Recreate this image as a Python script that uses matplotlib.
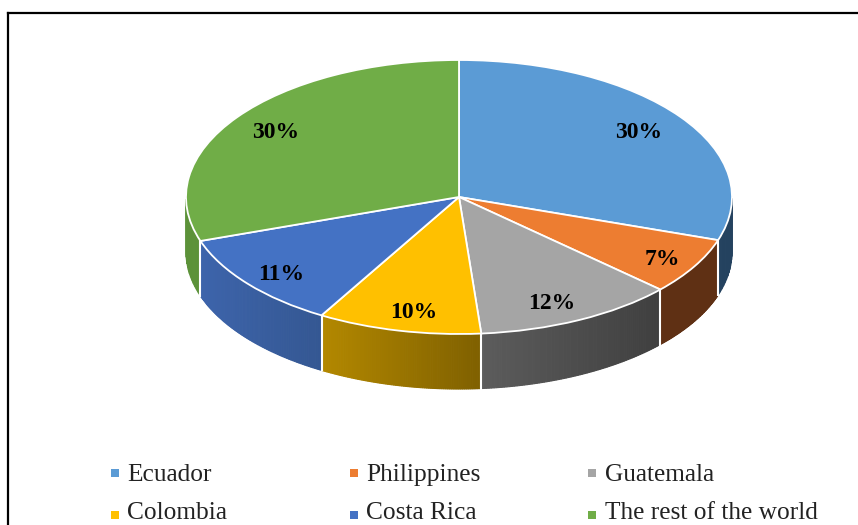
import numpy as np
import matplotlib
matplotlib.use("Agg")
import matplotlib.pyplot as plt
from matplotlib.colors import to_rgb

names = ["Ecuador", "Philippines", "Guatemala", "Colombia", "Costa Rica", "The rest of the world"]
shares = [30.1, 6.7, 11.9, 9.7, 11.4, 30.2]

top_colors = ["#5B9BD5", "#ED7D31", "#A5A5A5", "#FFC000", "#4472C4", "#70AD47"]
wall_left = ["#24425F", "#5F3014", "#5C5C5C", "#B38800", "#3D64AB", "#5C9239"]
wall_right = ["#24425F", "#5F3014", "#3F3F3F", "#7F6000", "#345792", "#5C9239"]

# nudges of the percent labels, in pixels
label_dx = [-6, 6, -8, 5, 0, 3]
label_dy = [3, 4, 3, 3, 5, 3]

W, H = 858, 525
cx, cy, rx, ry = 459, 197, 273, 137
depth = 55 / ry

plt.rcParams["font.family"] = "Liberation Serif"
fig = plt.figure(figsize=(W / 100, H / 100), dpi=100)
ax = fig.add_axes([0, 0, 1, 1])

# side wall first, the top of the pie goes over it
start = 90.0
for val, c1, c2 in zip(shares, wall_left, wall_right):
    end = start - val * 3.6
    ts = np.radians(np.linspace(start, end, 80))
    ts = ts[np.sin(ts) <= 0]
    if len(ts) > 1:
        xs = np.cos(ts)
        lo, hi = xs.min(), xs.max()
        for a, b in zip(ts[:-1], ts[1:]):
            f = ((np.cos(a) + np.cos(b)) / 2 - lo) / (hi - lo)
            col = (1 - f) * np.array(to_rgb(c1)) + f * np.array(to_rgb(c2))
            px = [np.cos(a), np.cos(b), np.cos(b), np.cos(a)]
            py = [np.sin(a), np.sin(b), np.sin(b) - depth, np.sin(a) - depth]
            ax.fill(px, py, color=col, lw=0.8, zorder=1)
        # white seam where two slices meet on the wall
        edge = np.radians(end)
        if np.sin(edge) < 0 and val != shares[-1]:
            ax.plot([np.cos(edge)] * 2, [np.sin(edge), np.sin(edge) - depth],
                    color="white", lw=1.5, zorder=2)
    start = end

wedges, texts, pcts = ax.pie(shares, colors=top_colors, startangle=90, counterclock=False,
                             autopct="%.0f%%", pctdistance=0.84, radius=1,
                             wedgeprops={"edgecolor": "white", "linewidth": 1.3, "zorder": 3})
for t, dx, dy in zip(pcts, label_dx, label_dy):
    t.set_fontsize(17)
    t.set_fontweight("bold")
    t.set_color("black")
    t.set_zorder(5)
    x0, y0 = t.get_position()
    t.set_position((x0 + dx / rx, y0 - dy / ry))

ax.set_aspect("auto")
ax.set_xlim(-cx / rx, (W - cx) / rx)
ax.set_ylim((cy - H) / ry, cy / ry)
ax.axis("off")

# outer frame only shows on top and left
fig.add_artist(plt.Line2D([8 / W, 8 / W], [0, 1 - 13 / H], color="black", lw=1.6))
fig.add_artist(plt.Line2D([8 / W, 1], [1 - 13 / H, 1 - 13 / H], color="black", lw=1.6))

# legend, three columns and two rows
col_x = [111, 350, 588]
text_x = [127, 366, 605]
row_y = [473, 515]
baseline = [481, 519]
for i, (name, c) in enumerate(zip(names, top_colors)):
    x = col_x[i % 3]
    y = row_y[i // 3]
    fig.add_artist(plt.Rectangle((x / W, 1 - (y + 4) / H), 8 / W, 8 / H, color=c, lw=0))
    fig.text(text_x[i % 3] / W, 1 - baseline[i // 3] / H, name, fontsize=18.3,
             va="baseline", ha="left", color="#222222")

fig.savefig("out.png", dpi=100)
